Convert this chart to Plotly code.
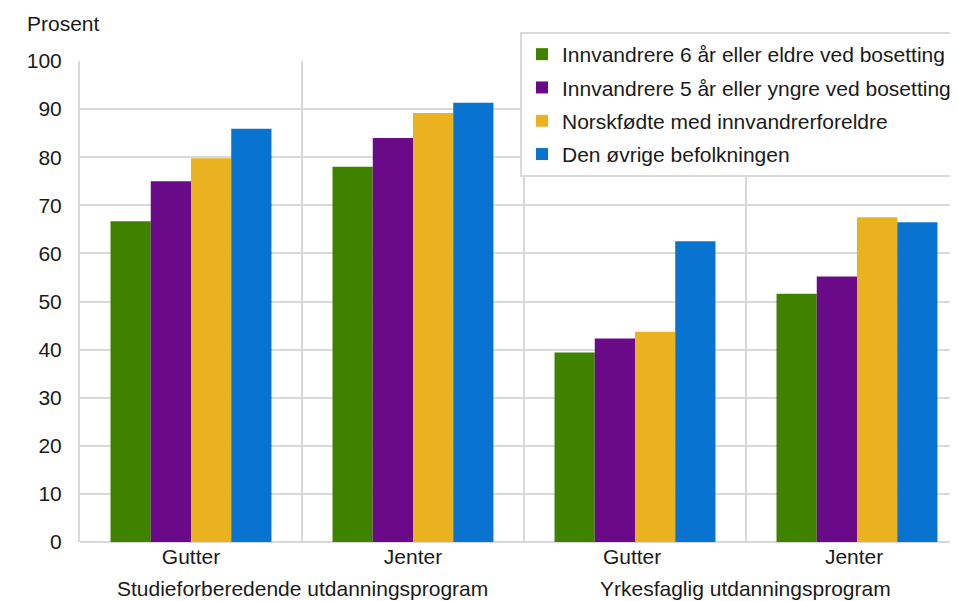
import plotly.graph_objects as go

# Data
categories = ["Gutter", "Jenter", "Gutter ", "Jenter "]
programs = ["Studieforberedende utdanningsprogram", "Yrkesfaglig utdanningsprogram"]
series_names = [
    "Innvandrere 6 år eller eldre ved bosetting",
    "Innvandrere 5 år eller yngre ved bosetting",
    "Norskfødte med innvandrerforeldre",
    "Den øvrige befolkningen",
]
values_6_eldre = [66.7, 78.0, 39.4, 51.6]
values_5_yngre = [75.0, 84.0, 42.3, 55.2]
values_norskfodte = [79.8, 89.2, 43.7, 67.5]
values_ovrige = [85.9, 91.3, 62.5, 66.5]
y_ticks = [0, 10, 20, 30, 40, 50, 60, 70, 80, 90, 100]

colors = ["#3e8200", "#6a0a88", "#ebb220", "#0874cf"]
font_family = "Liberation Sans, Arial, sans-serif"
grid_color = "#d9d9d9"
fsize = 21

# page has an 8px body margin, so the figure is drawn 8px smaller
W, H = 950, 593
L, T, B = 72, 53, 59
plot_w = W - L
plot_h = H - T - B

fig = go.Figure()
all_values = [values_6_eldre, values_5_yngre, values_norskfodte, values_ovrige]
for i, (name, vals) in enumerate(zip(series_names, all_values)):
    fig.add_trace(go.Bar(
        x=categories,
        y=vals,
        name=name,
        legendgroup=f"g{i}",
        marker=dict(color=colors[i], line=dict(width=0)),
    ))

# Program labels under each pair of categories
for j, prog in enumerate(programs):
    fig.add_annotation(
        x=2 * j + 0.5, xref="x",
        y=0, yref="paper",
        yanchor="middle", yshift=-46,
        text=prog, showarrow=False,
        font=dict(size=fsize, color="#1a1a1a", family=font_family),
    )

fig.add_annotation(
    x=(17 - L) / plot_w, xref="paper", y=1.0, yref="paper",
    xanchor="left", yanchor="bottom", yshift=24,
    text="Prosent", showarrow=False,
    font=dict(size=fsize, color="#1a1a1a", family=font_family),
)

fig.update_layout(
    width=W, height=H,
    margin=dict(l=L, r=0, t=T, b=B, autoexpand=False),
    paper_bgcolor="white",
    plot_bgcolor="white",
    barmode="group",
    bargap=0.275,
    bargroupgap=0,
    font=dict(family=font_family, size=fsize, color="#1a1a1a"),
    legend=dict(
        x=(512 - L) / plot_w, y=(H - B - 24) / plot_h,
        xanchor="left", yanchor="top",
        bgcolor="white",
        bordercolor=grid_color, borderwidth=2,
        traceorder="grouped", tracegroupgap=3,
        itemwidth=30,
        font=dict(size=fsize, family=font_family, color="#1a1a1a"),
    ),
    xaxis=dict(
        type="category",
        range=[-0.5, 3.455],
        tickson="boundaries",
        showgrid=True, gridcolor=grid_color, gridwidth=2,
        ticks="", showline=False,
        tickfont=dict(size=fsize),
        ticklabelstandoff=0,
        automargin=False,
    ),
    yaxis=dict(
        range=[0, 100],
        tickvals=y_ticks,
        showgrid=True, gridcolor=grid_color, gridwidth=2,
        zeroline=True, zerolinecolor=grid_color, zerolinewidth=2,
        showline=True, linecolor=grid_color, linewidth=2,
        ticks="", tickfont=dict(size=fsize),
        ticklabelstandoff=12,
        automargin=False,
    ),
)

fig.write_html("out.html")
